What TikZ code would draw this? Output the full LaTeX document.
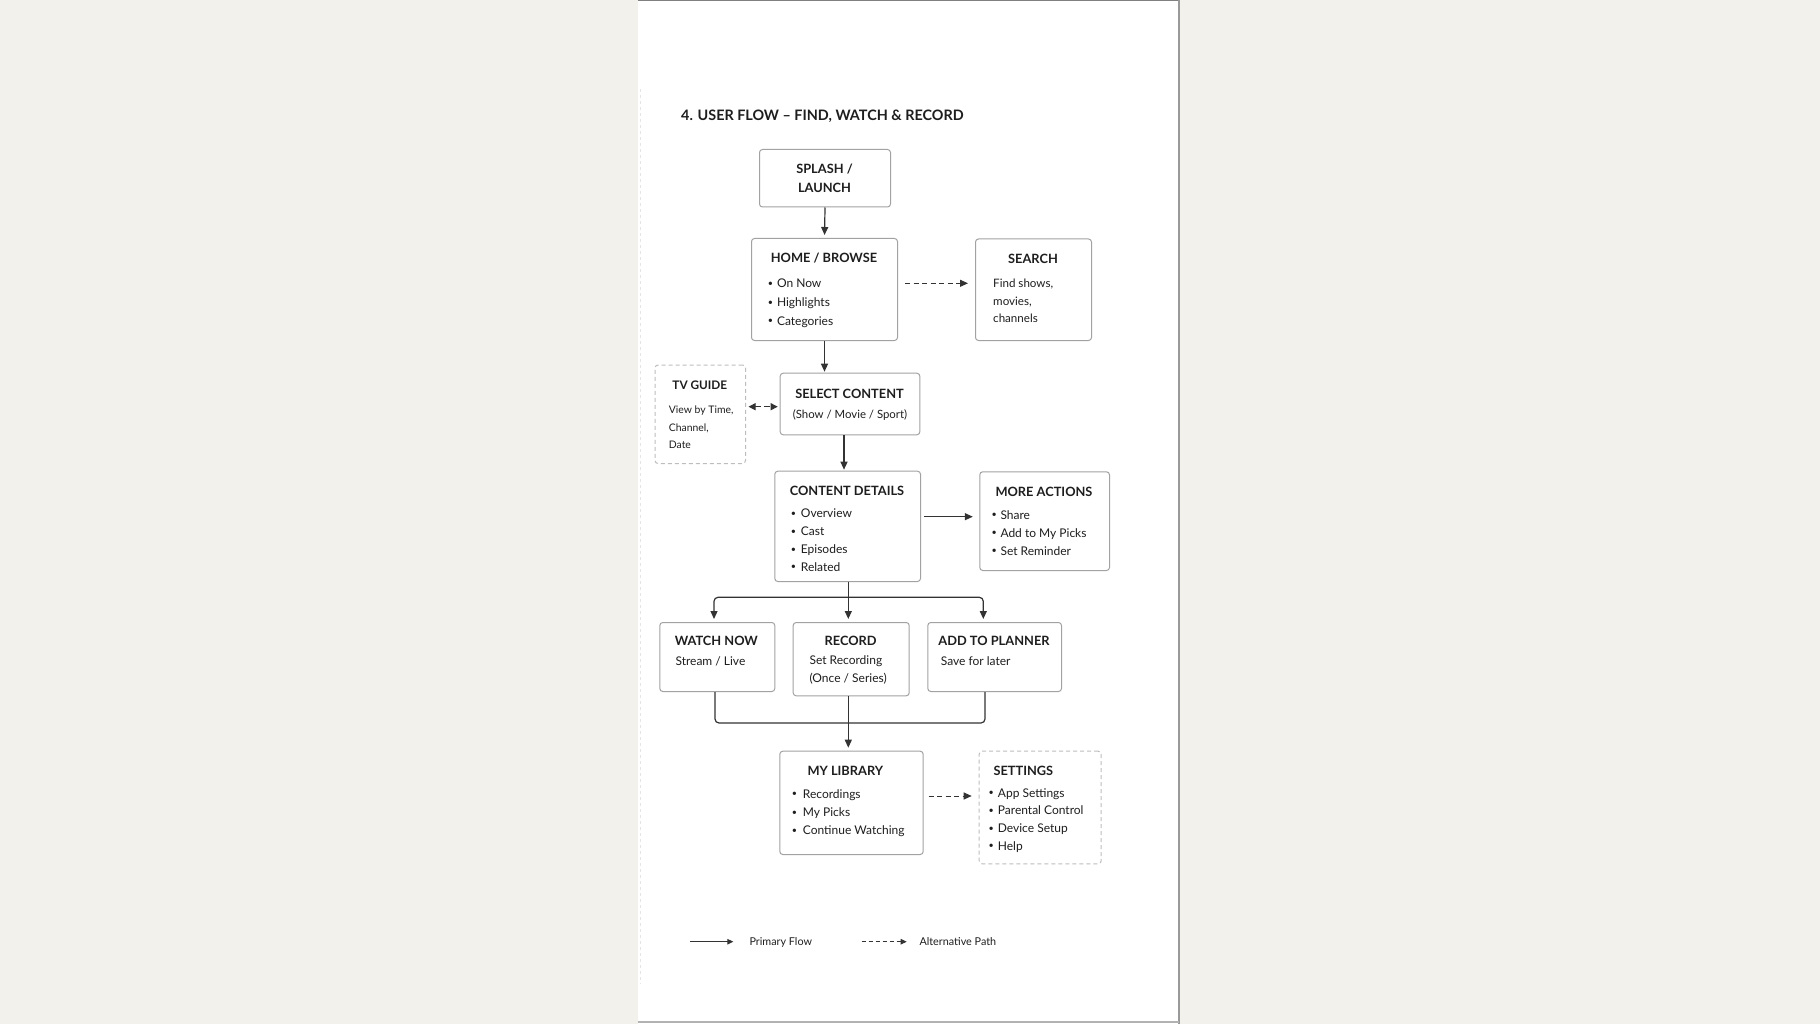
\documentclass[tikz,border=0pt]{standalone}
\usepackage{fontspec}
\setmainfont{Lato}
\newfontfamily\semib{Lato Bold}
\usetikzlibrary{arrows.meta}
\definecolor{bgout}{HTML}{F2F1EC}
\definecolor{ink}{HTML}{1E1E1E}
\definecolor{linec}{HTML}{333333}
\definecolor{boxc}{HTML}{A2A2A2}
\definecolor{dashc}{HTML}{BDBDBD}
\tikzset{
  box/.style={draw=boxc, line width=1pt, rounded corners=3pt, fill=white, inner sep=0, anchor=north west},
  dbox/.style={box, draw=dashc, dash pattern=on 4pt off 3pt},
  ttl/.style={font=\semib\fontsize{12.8}{15}\selectfont, text=ink, inner sep=0, anchor=base},
  ttlw/.style={ttl, anchor=base west},
  bd/.style={font=\fontsize{12}{14}\selectfont, text=ink, inner sep=0, anchor=base west},
  bul/.style={font=\fontsize{9}{10}\selectfont, text=ink, inner sep=0, anchor=base west, yshift=1.3pt},
  arr/.style={draw=linec, line width=1.2pt, -{Triangle[length=8pt,width=7pt]}},
  darr/.style={draw=linec, line width=1pt, -{Triangle[length=8pt,width=7pt]}, dash pattern=on 5pt off 3.5pt},
  larr/.style={draw=linec, line width=1pt, -{Triangle[length=6pt,width=5.5pt]}},
}
\begin{document}
\begin{tikzpicture}[x=1pt,y=-1pt]
\useasboundingbox (0,0) rectangle (1820,1024);
\fill[bgout] (0,0) rectangle (1820,1024);
\fill[white] (638,0) rectangle (1179,1024);
\draw[color=black!50, line width=1.5pt] (638,0.7) -- (1179,0.7);
\draw[color=black!40, line width=1.5pt] (1179,0) -- (1179,1024);
\draw[color=black!30, line width=1.5pt] (638,1022) -- (1179,1022);
\draw[color=black!10, line width=1pt, dash pattern=on 3pt off 3pt] (640.5,89) -- (640.5,984);

% title
\node[font=\semib\fontsize{14.4}{17}\selectfont, text=ink, inner sep=0, anchor=base west] (title) at (681,120.5) {4. USER FLOW – FIND, WATCH \& RECORD};

% SPLASH
\node[box, minimum width=131, minimum height=57.5] (splash) at (759,149) {};
\node[ttl] (splT1) at (824.5,173.7) {SPLASH /};
\node[ttl] (splT2) at (824.5,192.4) {LAUNCH};

% HOME
\node[box, minimum width=146, minimum height=102] (home) at (751,238) {};
\node[ttl] (homeT) at (824,263) {HOME / BROWSE};
\node[bul] (homeB1) at (767.6,287.5) {•};
\node[bul] (homeB2) at (767.6,306.5) {•};
\node[bul] (homeB3) at (767.6,325.2) {•};
\node[bd] (homeL1) at (776.8,287.5) {On Now};
\node[bd] (homeL2) at (776.8,306.5) {Highlights};
\node[bd] (homeL3) at (776.8,325.2) {Categories};

% SEARCH
\node[box, minimum width=116, minimum height=101.5] (search) at (975,238.5) {};
\node[ttl] (searchT) at (1033,264) {SEARCH};
\node[bd, font=\fontsize{11.6}{14}\selectfont] (searchL1) at (993,287.5) {Find shows,};
\node[bd, font=\fontsize{11.6}{14}\selectfont] (searchL2) at (993,305.2) {movies,};
\node[bd, font=\fontsize{11.6}{14}\selectfont] (searchL3) at (993,322.9) {channels};

% TV GUIDE
\node[dbox, minimum width=90.5, minimum height=98.5] (tv) at (654.5,364.5) {};
\node[ttl, font=\semib\fontsize{11.8}{14}\selectfont] (tvT) at (699.8,389.4) {TV GUIDE};
\node[bd, font=\fontsize{10.4}{12}\selectfont] (tvL1) at (668.7,413.5) {View by Time,};
\node[bd, font=\fontsize{10.4}{12}\selectfont] (tvL2) at (668.7,431) {Channel,};
\node[bd, font=\fontsize{10.4}{12}\selectfont] (tvL3) at (668.7,448.3) {Date};

% SELECT
\node[box, minimum width=139.6, minimum height=61.6] (select) at (779.7,372.7) {};
\node[ttl] (selT) at (849.5,398) {SELECT CONTENT};
\node[bd, font=\fontsize{11.4}{14}\selectfont, anchor=base] (selL) at (850,418.2) {(Show / Movie / Sport)};

% CONTENT DETAILS
\node[box, minimum width=145.7, minimum height=110.3] (cd) at (774.3,470.7) {};
\node[ttl] (cdT) at (847,495.4) {CONTENT DETAILS};
\node[bul] (cdB1) at (790.7,517.5) {•};
\node[bul] (cdB2) at (790.7,535.9) {•};
\node[bul] (cdB3) at (790.7,553.5) {•};
\node[bul] (cdB4) at (790.7,571.2) {•};
\node[bd] (cdL1) at (800.7,517.5) {Overview};
\node[bd] (cdL2) at (800.7,535.9) {Cast};
\node[bd] (cdL3) at (800.7,553.5) {Episodes};
\node[bd] (cdL4) at (800.7,571.2) {Related};

% MORE ACTIONS
\node[box, minimum width=129.7, minimum height=98.7] (more) at (979.3,471.3) {};
\node[ttl] (moreT) at (1044,496) {MORE ACTIONS};
\node[bul] (moreB1) at (991.3,519.2) {•};
\node[bul] (moreB2) at (991.3,537.2) {•};
\node[bul] (moreB3) at (991.3,555.2) {•};
\node[bd] (moreL1) at (1000.3,519.2) {Share};
\node[bd] (moreL2) at (1000.3,537.2) {Add to My Picks};
\node[bd] (moreL3) at (1000.3,555.2) {Set Reminder};

% WATCH NOW
\node[box, minimum width=115, minimum height=69] (watch) at (659.3,622) {};
\node[ttl] (watchT) at (716.3,645.5) {WATCH NOW};
\node[bd] (watchL) at (675.3,665.9) {Stream / Live};

% RECORD
\node[box, minimum width=116, minimum height=73.3] (record) at (792.7,622) {};
\node[ttl] (recT) at (850.7,645.5) {RECORD};
\node[bd] (recL1) at (809.3,664.2) {Set Recording};
\node[bd] (recL2) at (809.3,682.5) {(Once / Series)};

% ADD TO PLANNER
\node[box, minimum width=133.7, minimum height=69] (plan) at (927.3,622) {};
\node[ttl] (planT) at (994,645.5) {ADD TO PLANNER};
\node[bd] (planL) at (940.7,665.9) {Save for later};

% MY LIBRARY
\node[box, minimum width=143.4, minimum height=103.3] (lib) at (779.3,750.7) {};
\node[ttlw] (libT) at (807.3,775.7) {MY LIBRARY};
\node[bul] (libB1) at (791.7,798.2) {•};
\node[bul] (libB2) at (791.7,816.5) {•};
\node[bul] (libB3) at (791.7,834.9) {•};
\node[bd] (libL1) at (802.7,798.2) {Recordings};
\node[bd] (libL2) at (802.7,816.5) {My Picks};
\node[bd] (libL3) at (802.7,834.9) {Continue Watching};

% SETTINGS
\node[dbox, minimum width=122, minimum height=112.6] (set) at (978.7,750.7) {};
\node[ttlw] (setT) at (993.3,775.7) {SETTINGS};
\node[bul] (setB1) at (988.3,797.2) {•};
\node[bul] (setB2) at (988.3,814.9) {•};
\node[bul] (setB3) at (988.3,832.5) {•};
\node[bul] (setB4) at (988.3,850.2) {•};
\node[bd] (setL1) at (997.7,797.2) {App Settings};
\node[bd] (setL2) at (997.7,814.9) {Parental Control};
\node[bd] (setL3) at (997.7,832.5) {Device Setup};
\node[bd] (setL4) at (997.7,850.2) {Help};

% connectors
\draw[arr, shorten >=3pt] (splash.south) -- (home.north);
\draw[darr, shorten <=7pt, shorten >=7pt] (home.east |- 0,283.3) -- (search.west |- 0,283.3);
\draw[arr, shorten >=1pt] (home.south) -- (select.north -| home.south);
\draw[arr, line width=1pt, dash pattern=on 6pt off 3pt, {Triangle[length=7pt,width=7pt]}-{Triangle[length=7pt,width=7pt]}, shorten <=2.5pt, shorten >=2pt] (tv.east |- 0,406.7) -- (select.west |- 0,406.7);
\draw[arr, shorten >=1pt] (select.south -| 844,0) -- (cd.north -| 844,0);
\draw[arr, shorten <=3pt, shorten >=6.5pt] (cd.east |- 0,516.7) -- (more.west |- 0,516.7);

\coordinate (br) at (848.3,597.3);
\draw[draw=linec, line width=1.2pt] (cd.south -| br) -- (br);
\draw[arr, rounded corners=4pt, shorten >=3pt] (br) -| (watch.north -| 714,0);
\draw[arr, shorten >=3pt] (br) -- (record.north -| br);
\draw[arr, rounded corners=4pt, shorten >=3pt] (br) -| (plan.north -| 983.3,0);

\coordinate (mg) at (848.3,723);
\draw[draw=linec, line width=1.2pt, rounded corners=4pt] (watch.south -| 715,0) |- (mg) -| (plan.south -| 985,0);
\draw[draw=linec, line width=1.2pt] (record.south -| mg) -- (mg);
\draw[arr, shorten >=3pt] (mg) -- (lib.north -| mg);
\draw[darr, shorten <=5pt, shorten >=7pt] (lib.east |- 0,796) -- (set.west |- 0,796);

% legend
\coordinate (lgA) at (690,941.7);
\coordinate (lgB) at (733.3,941.7);
\coordinate (lgC) at (861.7,941.7);
\coordinate (lgD) at (906.7,941.7);
\draw[larr] (lgA) -- (lgB);
\draw[larr, dash pattern=on 4pt off 3pt] (lgC) -- (lgD);
\node[bd, font=\fontsize{10.8}{12}\selectfont] (lgT1) at (749.3,945.5) {Primary Flow};
\node[bd, font=\fontsize{10.8}{12}\selectfont] (lgT2) at (919.3,945.5) {Alternative Path};
\end{tikzpicture}
\end{document}
